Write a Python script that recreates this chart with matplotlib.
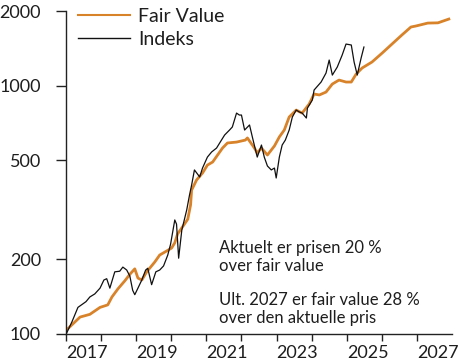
import matplotlib
matplotlib.use("Agg")
import matplotlib.pyplot as plt
from matplotlib.ticker import FixedLocator, NullLocator

plt.rcParams['font.family'] = ['Lato', 'DejaVu Sans']

# Fair Value series (decimal year, value)
fv_years = [2017.02, 2017.40, 2017.68, 2017.97, 2018.19, 2018.31, 2018.48, 2018.68, 2018.82, 2018.96,
            2019.05, 2019.16, 2019.30, 2019.53, 2019.67, 2019.87, 2020.01, 2020.10, 2020.18, 2020.32,
            2020.47, 2020.55, 2020.58, 2020.72, 2020.89, 2021.03, 2021.18, 2021.32, 2021.46, 2021.60,
            2021.86, 2022.11, 2022.17, 2022.37, 2022.45, 2022.57, 2022.74, 2022.94, 2023.08, 2023.22,
            2023.36, 2023.56, 2023.73, 2023.93, 2024.07, 2024.22, 2024.41, 2024.59, 2024.78, 2024.98,
            2025.13, 2025.27, 2025.44, 2025.72, 2026.01, 2026.29, 2026.57, 2026.83, 2026.97, 2027.31,
            2027.60, 2027.91]
fv_values = [104, 117, 120, 128, 131, 141, 152, 164, 174, 183,
             168, 165, 178, 195, 208, 216, 222, 233, 253, 270,
             290, 331, 380, 417, 445, 479, 493, 526, 561, 588,
             593, 604, 616, 561, 536, 561, 526, 572, 622, 663,
             748, 798, 776, 844, 926, 918, 943, 1016, 1054, 1035,
             1035, 1115, 1179, 1246, 1354, 1472, 1600, 1724, 1740, 1788,
             1792, 1856]

# Index series (decimal year, value)
ix_years = [2017.02, 2017.17, 2017.34, 2017.57, 2017.68, 2017.82, 2017.97, 2018.08, 2018.16, 2018.25,
            2018.39, 2018.53, 2018.62, 2018.73, 2018.82, 2018.90, 2018.96, 2019.05, 2019.16, 2019.27,
            2019.33, 2019.44, 2019.56, 2019.67, 2019.78, 2019.90, 2019.98, 2020.10, 2020.15, 2020.21,
            2020.30, 2020.44, 2020.52, 2020.58, 2020.66, 2020.81, 2020.89, 2021.03, 2021.15, 2021.29,
            2021.43, 2021.52, 2021.66, 2021.74, 2021.86, 2021.94, 2022.00, 2022.09, 2022.23, 2022.31,
            2022.45, 2022.57, 2022.65, 2022.74, 2022.85, 2022.94, 2022.99, 2023.08, 2023.16, 2023.25,
            2023.36, 2023.45, 2023.56, 2023.65, 2023.73, 2023.85, 2023.88, 2024.02, 2024.07, 2024.27,
            2024.41, 2024.50, 2024.59, 2024.73, 2024.87, 2024.98, 2025.13, 2025.21, 2025.30, 2025.41,
            2025.49]
ix_values = [101, 112, 128, 135, 141, 145, 153, 165, 167, 153,
             178, 179, 186, 181, 171, 150, 144, 153, 165, 181,
             184, 158, 178, 181, 188, 208, 230, 288, 277, 202,
             262, 316, 363, 398, 458, 429, 466, 516, 541, 561,
             604, 633, 663, 682, 776, 762, 762, 663, 695, 622,
             516, 577, 516, 475, 458, 466, 425, 516, 577, 604,
             663, 748, 798, 784, 776, 741, 813, 876, 961, 1035,
             1125, 1269, 1104, 1189, 1329, 1472, 1459, 1246, 1104, 1293,
             1432]

y_ticks = [100, 200, 500, 1000, 2000]
x_years = list(range(2017, 2028))
x_labels = [str(y) if y % 2 == 1 else '' for y in x_years]

series_names = ['Fair Value', 'Indeks']
note1 = 'Aktuelt er prisen 20 %\nover fair value'
note2 = 'Ult. 2027 er fair value 28 %\nover den aktuelle pris'

fig = plt.figure(figsize=(4.59, 3.62), dpi=100)
ax = fig.add_axes([66/459, 1-334/362, (452-66)/459, (334-11)/362])

text_color = '#1e1e1e'
ax.plot(fv_years, fv_values, color='#D8822A', lw=2.0, label=series_names[0], zorder=2)
ax.plot(ix_years, ix_values, color='#111111', lw=0.9, label=series_names[1], zorder=3)

ax.set_yscale('log')
ax.set_ylim(100, 2000)
ax.set_xlim(2017, 2028)
ax.yaxis.set_major_locator(FixedLocator(y_ticks))
ax.yaxis.set_minor_locator(NullLocator())
ax.set_yticklabels([str(v) for v in y_ticks])
ax.set_xticks(x_years)
ax.set_xticklabels(x_labels, ha='left')
ax.xaxis.set_minor_locator(NullLocator())

for s in ['top', 'right']:
    ax.spines[s].set_visible(False)
for s in ['left', 'bottom']:
    ax.spines[s].set_color('#222222')
    ax.spines[s].set_linewidth(1.0)

ax.tick_params(axis='y', length=7, width=1, color='#222222', pad=11, labelsize=13, labelcolor=text_color)
ax.tick_params(axis='x', length=5, width=1, color='#222222', pad=3, labelsize=13, labelcolor=text_color)

leg = ax.legend(loc='upper left', bbox_to_anchor=(0.0, 1.045), frameon=False, fontsize=14,
                handlelength=2.7, handletextpad=0.42, labelspacing=0.28, borderaxespad=0.2,
                labelcolor=text_color)
for h in leg.get_lines():
    h.set_linewidth(1.5 if h.get_color() != '#111111' else 1.0)

fig.text(219/459, 1-240/362, note1, fontsize=12, color=text_color, va='top', ha='left', linespacing=1.15)
fig.text(219/459, 1-292/362, note2, fontsize=12, color=text_color, va='top', ha='left', linespacing=1.15)

fig.savefig('out.png', dpi=100)
